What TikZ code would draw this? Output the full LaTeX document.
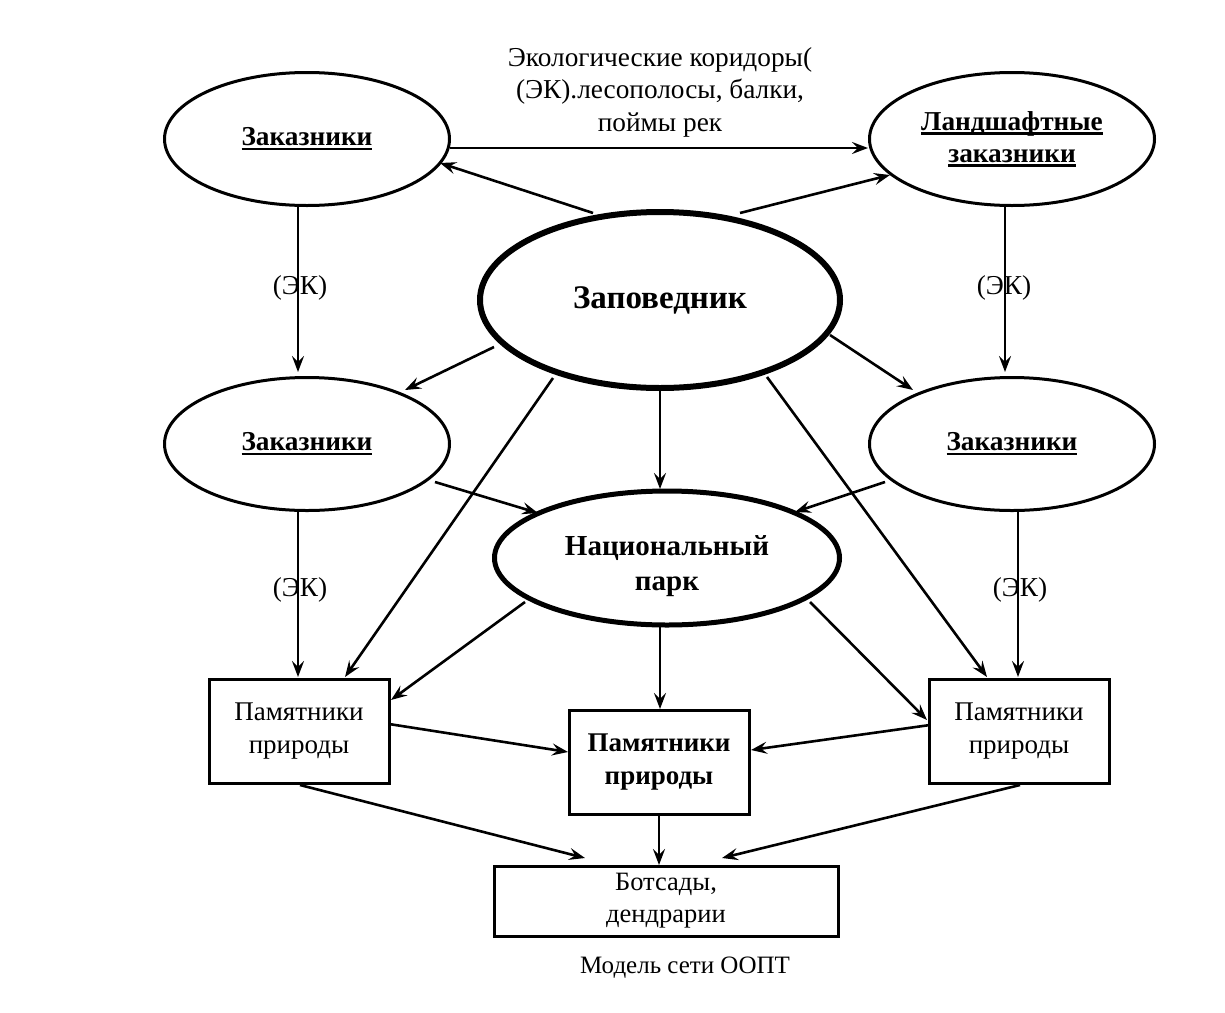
\documentclass[tikz,border=0pt]{standalone}
\usepackage{fontspec}
\setmainfont{Liberation Serif}
\usetikzlibrary{shapes.geometric,arrows.meta}
\newcommand{\ulbox}[1]{\setbox0\hbox{#1}\rlap{\rule[-4.5pt]{\wd0}{2.6pt}}\box0}
\tikzset{
  oval/.style={ellipse, draw, line width=3pt, inner sep=0pt, minimum width=285pt, minimum height=133pt,
    font=\fontsize{27.3}{32}\selectfont\bfseries, align=center},
  box/.style={rectangle, draw, line width=3pt, inner sep=0pt, minimum width=180pt, minimum height=104pt,
    font=\fontsize{27}{33}\selectfont, align=center},
  conn/.style={line width=2.6pt, -{Stealth[length=16pt,width=12pt,inset=6pt]}},
  lbl/.style={font=\fontsize{27.3}{32.5}\selectfont, align=center, inner sep=0pt}
}
\begin{document}
\begin{tikzpicture}[x=1pt,y=-1pt]
\useasboundingbox (0,0) rectangle (1225,1012);
\fill[white] (0,0) rectangle (1225,1012);

\node[oval] (tl) at (307,139) {\ulbox{Заказники}};
\node[oval] (tr) at (1012,139) {\ulbox{Ландшафтные}\\[0pt]\ulbox{заказники}};
\node[oval] (ml) at (307,444) {\ulbox{Заказники}};
\node[oval] (mr) at (1012,444) {\ulbox{Заказники}};
\node[ellipse, draw, line width=6pt, inner sep=0pt, minimum width=360pt, minimum height=176pt,
  font=\fontsize{33}{38}\selectfont\bfseries] (zap) at (660,300) {Заповедник};
\node[ellipse, draw, line width=5pt, inner sep=0pt, minimum width=345pt, minimum height=134pt,
  label={[font=\fontsize{29}{35}\selectfont\bfseries, align=center, yshift=-8pt]center:{Национальный\\парк}}] (np) at (667,558) {};

\node[box] (lb) at (299,731) {Памятники\\природы};
\node[box, font=\fontsize{27}{33}\selectfont\bfseries] (cb) at (659,762) {Памятники\\природы};
\node[box] (rb) at (1019,731) {Памятники\\природы};
\node[box, minimum width=344pt, minimum height=70pt, font=\fontsize{26.5}{32}\selectfont] (bb) at (666,901) {Ботсады,\\дендрарии};

\node[lbl] (top) at (660,92) {Экологические коридоры(\\(ЭК).лесополосы, балки,\\поймы рек};
\node[lbl] (ek1) at (300,288) {(ЭК)};
\node[lbl] (ek2) at (1004,288) {(ЭК)};
\node[lbl] (ek3) at (300,590) {(ЭК)};
\node[lbl] (ek4) at (1020,590) {(ЭК)};
\node[lbl, font=\fontsize{25}{30}\selectfont] (cap) at (685,968) {Модель сети ООПТ};

% connectors
\draw[conn] ([shift={(143,9)}]tl.center) -- ([shift={(-144,9)}]tr.center);
\draw[conn] ([shift={(-67,-87)}]zap.center) -- ([shift={(133,24)}]tl.center);
\draw[conn] ([shift={(80,-87)}]zap.center) -- ([shift={(-122,36)}]tr.center);
\draw[conn] ([shift={(-9,66)}]tl.center) -- ([shift={(-9,-72)}]ml.center);
\draw[conn] ([shift={(-7,66)}]tr.center) -- ([shift={(-7,-72)}]mr.center);
\draw[conn] ([shift={(-166,47)}]zap.center) -- ([shift={(98,-54)}]ml.center);
\draw[conn] ([shift={(170,35)}]zap.center) -- ([shift={(-99,-54)}]mr.center);
\draw[conn] ([shift={(0,89)}]zap.center) -- ([shift={(-7,-69)}]np.center);
\draw[conn] ([shift={(-107,78)}]zap.center) -- ([shift={(46,-54)}]lb.center);
\draw[conn] ([shift={(107,77)}]zap.center) -- ([shift={(-32,-54)}]rb.center);
\draw[conn] ([shift={(128,38)}]ml.center) -- ([shift={(-129,-45)}]np.center);
\draw[conn] ([shift={(-127,38)}]mr.center) -- ([shift={(128,-46)}]np.center);
\draw[conn] ([shift={(-9,68)}]ml.center) -- ([shift={(-1,-54)}]lb.center);
\draw[conn] ([shift={(6,68)}]mr.center) -- ([shift={(-1,-54)}]rb.center);
\draw[conn] ([shift={(-142,44)}]np.center) -- ([shift={(92,-31)}]lb.center);
\draw[conn] ([shift={(-7,67)}]np.center) -- ([shift={(1,-53)}]cb.center);
\draw[conn] ([shift={(143,44)}]np.center) -- ([shift={(-92,-11)}]rb.center);
\draw[conn] ([shift={(90,-7)}]lb.center) -- ([shift={(-91,-10)}]cb.center);
\draw[conn] ([shift={(-89,-6)}]rb.center) -- ([shift={(92,-12)}]cb.center);
\draw[conn] ([shift={(1,54)}]lb.center) -- ([shift={(-81,-43)}]bb.center);
\draw[conn] ([shift={(0,52)}]cb.center) -- ([shift={(-7,-36)}]bb.center);
\draw[conn] ([shift={(1,54)}]rb.center) -- ([shift={(56,-43)}]bb.center);
\end{tikzpicture}
\end{document}
